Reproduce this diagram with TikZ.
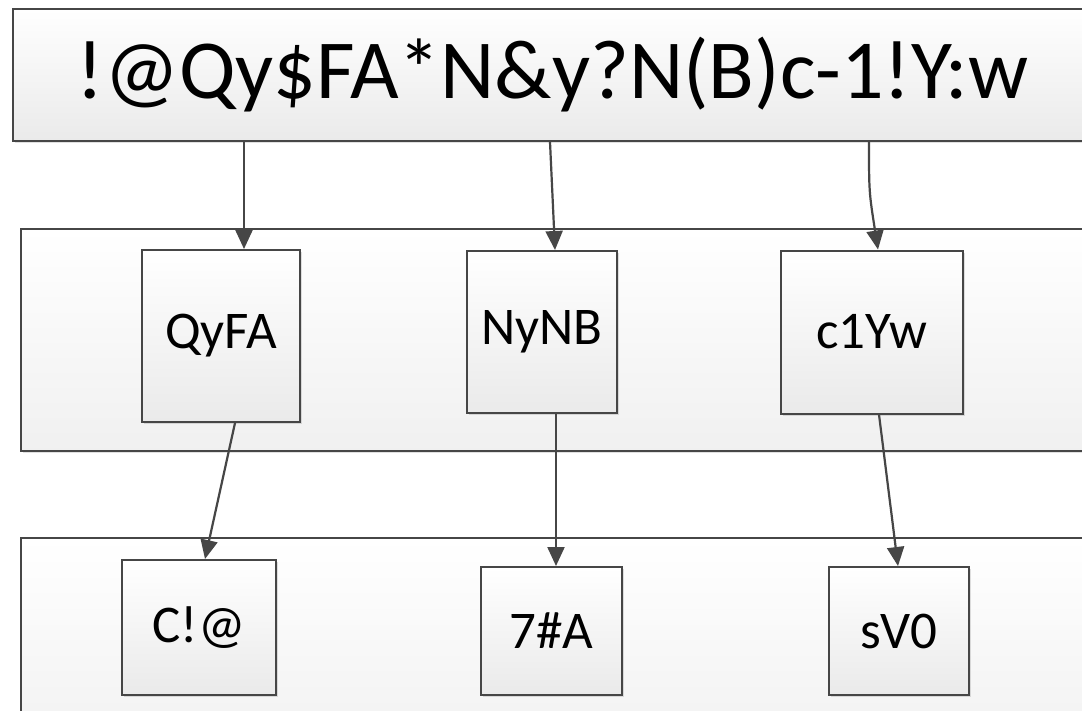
\documentclass[tikz,border=0pt]{standalone}
\usepackage{fontspec}
\setmainfont{Carlito}
\usetikzlibrary{arrows.meta,shadows,calc}

\definecolor{edge}{HTML}{464646}
\definecolor{shadeB}{HTML}{EAEAEA}

\tikzset{
  panel/.style={draw=edge, line width=2pt, top color=white, bottom color=shadeB!70,
                inner sep=0pt, anchor=north west,
                drop shadow={shadow xshift=2pt, shadow yshift=-2pt, opacity=0.12, fill=black}},
  stage/.style={draw=edge, line width=2pt, top color=white, bottom color=shadeB,
                inner sep=0pt, font=\fontsize{53}{60}\selectfont,
                drop shadow={shadow xshift=2pt, shadow yshift=-2pt, opacity=0.12, fill=black}},
  link/.style={draw=edge, line width=2.2pt, -{Triangle[length=19pt,width=17pt]}},
}

\begin{document}
\begin{tikzpicture}[x=1pt,y=-1pt]
  \useasboundingbox (0,0) rectangle (1082,710);
  \clip (0,0) rectangle (1082,710);
  \fill[white] (0,0) rectangle (1082,710);

  % header and the two layers
  \node[stage, minimum width=1079pt, minimum height=132pt, font=\fontsize{84}{92}\selectfont]
       (top) at (552.5,75) {!@Qy\$FA*N\&y?N(B)c-1!Y:w};
  \node[panel, minimum width=1075pt, minimum height=222pt] (mid) at (20,228) {};
  \node[panel, minimum width=1075pt, minimum height=230pt] (low) at (20,537) {};

  % middle layer boxes
  \node[stage, minimum width=158pt, minimum height=172pt] (qyfa) at (221,336) {QyFA};
  \node[stage, minimum width=150pt, minimum height=162pt] (nynb) at (542,332) {NyNB};
  \node[stage, minimum width=182pt, minimum height=163pt] (c1yw) at (872,332) {c1Yw};

  % lower layer boxes
  \node[stage, minimum width=154pt, minimum height=135pt] (cat)  at (199,627.5) {C!@};
  \node[stage, minimum width=141pt, minimum height=128pt] (sev)  at (551.5,631) {7\#A};
  \node[stage, minimum width=140pt, minimum height=128pt] (svo)  at (899,631) {sV0};

  % connectors
  \draw[link] (top.south -| 244,0) -- (qyfa.north -| 244,0);
  \draw[link] (top.south -| 550,0) -- (nynb.north -| 555,0);
  \draw[link] (top.south -| 869,0) .. controls ($(top.south -| 869,0)+(0,50)$) .. (c1yw.north -| 878,0);
  \draw[link] (qyfa.south -| 235,0) -- (cat.north -| 205,0);
  \draw[link] (nynb.south -| 556,0) -- (sev.north -| 556,0);
  \draw[link] (c1yw.south -| 879,0) -- (svo.north -| 898,0);
\end{tikzpicture}
\end{document}
